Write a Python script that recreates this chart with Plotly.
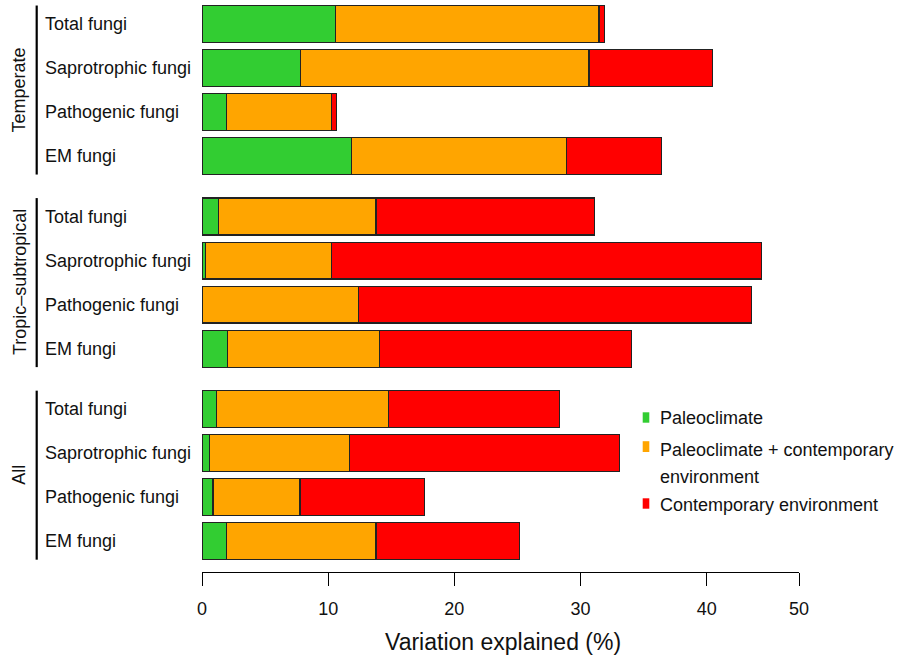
import plotly.graph_objects as go

# ---------------- data ----------------
groups = ["Temperate", "Tropic\u2013subtropical", "All"]
categories = ["Total fungi", "Saprotrophic fungi", "Pathogenic fungi", "EM fungi"]

paleoclimate = [
    [10.57, 7.80, 1.93, 11.84],   # Temperate
    [1.32, 0.27, 0.00, 2.01],     # Tropic-subtropical
    [1.14, 0.58, 0.87, 1.93],     # All
]
shared = [
    [20.89, 22.87, 8.32, 17.06],
    [12.47, 9.98, 12.39, 12.07],
    [13.65, 11.12, 6.90, 11.86],
]
contemporary = [
    [0.42, 9.77, 0.40, 7.53],
    [17.35, 34.10, 31.14, 19.94],
    [13.53, 21.40, 9.88, 11.38],
]

series_names = ["Paleoclimate", "Paleoclimate + contemporary environment",
                "Contemporary environment"]
series_colors = ["#32CD32", "#FFA500", "#FF0000"]

tick_values = [0, 10, 20, 30, 40, 47.32]
tick_labels = ["0", "10", "20", "30", "40", "50"]
x_title = "Variation explained (%)"

# ---------------- layout helpers ----------------
FONT = "Liberation Sans, Arial, Helvetica, sans-serif"
GAP = 0.375           # extra space between groups (in bar pitches)
BAR_W = 0.84

W, H = 901, 658
L, R, T, B = 202, 102, 2, 86
PW, PH = W - L - R, H - T - B


def xp(px):
    return (px - L) / PW


def yp(py):
    return (H - B - py) / PH


ypos, ylab = [], []
for g in range(len(groups)):
    for i in range(len(categories)):
        ypos.append(g * (len(categories) + GAP) + i)
        ylab.append(categories[i])

series_vals = [paleoclimate, shared, contemporary]

fig = go.Figure()
for name, color, vals in zip(series_names, series_colors, series_vals):
    flat = [v for grp in vals for v in grp]
    fig.add_trace(go.Bar(
        x=flat, y=ypos, orientation="h", name=name, width=BAR_W,
        marker=dict(color=color, line=dict(color="#222222", width=1.2)),
        showlegend=False,
    ))

annotations = []
shapes = []

# category labels (left aligned)
for y, lab in zip(ypos, ylab):
    annotations.append(dict(
        x=xp(43), y=y, xref="paper", yref="y", text=lab, showarrow=False,
        xanchor="left", yanchor="middle", font=dict(family=FONT, size=18, color="#111")))

# group brackets and rotated labels
n = len(categories)
for g, gname in enumerate(groups):
    y0 = g * (n + GAP) - 0.42
    y1 = g * (n + GAP) + n - 1 + 0.42
    shapes.append(dict(type="line", xref="paper", yref="y", x0=xp(36.7), x1=xp(36.7),
                       y0=y0, y1=y1, line=dict(color="black", width=2.2)))
    annotations.append(dict(
        x=xp(19.5), y=(y0 + y1) / 2, xref="paper", yref="y", text=gname, showarrow=False,
        textangle=-90, xanchor="center", yanchor="middle",
        font=dict(family=FONT, size=18, color="#111")))

# legend (drawn manually to mimic the R legend)
leg_rows = [
    (412.3, 422.7, ["Paleoclimate"], [418.3]),
    (441.2, 452.0, ["Paleoclimate + contemporary", "environment"], [450.0, 476.7]),
    (498.3, 508.7, ["Contemporary environment"], [505.0]),
]
for (ya, yb, texts, ys), color in zip(leg_rows, series_colors):
    shapes.append(dict(type="rect", xref="paper", yref="paper",
                       x0=xp(642.7), x1=xp(649.3), y0=yp(yb), y1=yp(ya),
                       fillcolor=color, line=dict(width=0)))
    for t, yy in zip(texts, ys):
        annotations.append(dict(
            x=xp(658), y=yp(yy), xref="paper", yref="paper", text=t, showarrow=False,
            xanchor="left", yanchor="middle", font=dict(family=FONT, size=18, color="#111")))

# x-axis title
annotations.append(dict(
    x=xp(502.7), y=yp(641.7), xref="paper", yref="paper", text=x_title, showarrow=False,
    xanchor="center", yanchor="middle", font=dict(family=FONT, size=23, color="#111")))

fig.update_layout(
    width=W, height=H,
    margin=dict(l=L, r=R, t=T, b=B, pad=0),
    barmode="stack",
    plot_bgcolor="white", paper_bgcolor="white",
    font=dict(family=FONT, size=18, color="#111"),
    annotations=annotations, shapes=shapes,
    xaxis=dict(range=[0, tick_values[-1]], tickvals=tick_values, ticktext=tick_labels,
               ticks="outside", ticklen=13, tickwidth=1.3, tickcolor="black",
               ticklabelstandoff=7,
               showline=True, linecolor="black", linewidth=1.3,
               showgrid=False, zeroline=False, tickfont=dict(family=FONT, size=18, color="#111"),
               fixedrange=True),
    yaxis=dict(range=[(len(groups) - 1) * (n + GAP) + n - 1 + 0.70, -0.5],
               showticklabels=False, showline=False, showgrid=False, zeroline=False,
               ticks="", fixedrange=True),
)

fig.write_html("out.html", config={"displayModeBar": False},
               post_script="document.body.style.margin='0';document.body.style.overflow='hidden';")
